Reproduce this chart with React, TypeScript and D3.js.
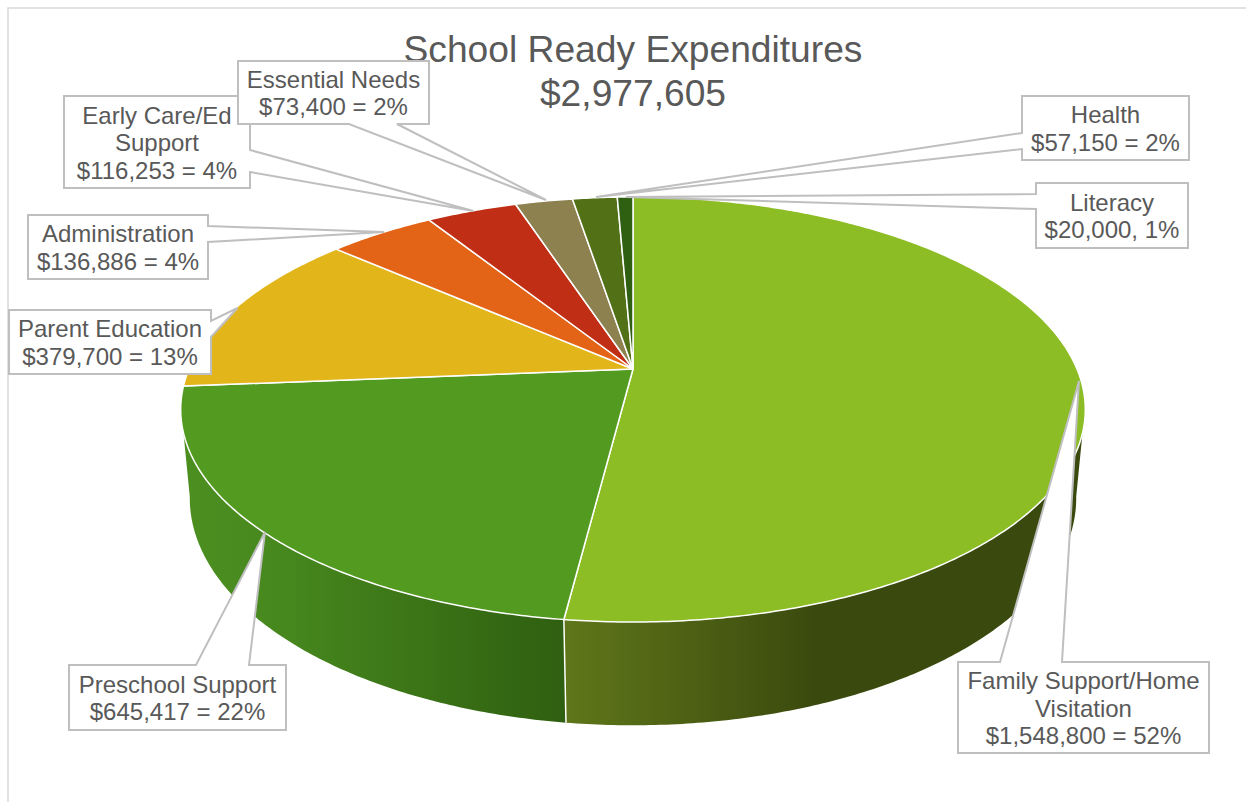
import React from "react";
import * as d3 from "d3";

const categories = ["Family Support/Home Visitation", "Preschool Support", "Parent Education", "Administration", "Early Care/Ed Support", "Essential Needs", "Health", "Literacy"];
const amounts = [1548800, 645417, 379700, 136886, 116253, 73400, 57150, 20000];
const sliceColors = ["#8cbd24", "#529b20", "#e2b61b", "#e36416", "#c02f15", "#8e8150", "#527117", "#2f6011"];
const labelLines = [
  ["Family Support/Home", "Visitation", "$1,548,800 = 52%"],
  ["Preschool Support", "$645,417 = 22%"],
  ["Parent Education", "$379,700 = 13%"],
  ["Administration", "$136,886 = 4%"],
  ["Early Care/Ed", "Support", "$116,253 = 4%"],
  ["Essential Needs", "$73,400 = 2%"],
  ["Health", "$57,150 = 2%"],
  ["Literacy", "$20,000, 1%"],
];
const titleLines = ["School Ready Expenditures", "$2,977,605"];

// callout geometry: box, wedge edge, wedge base span, tip
type Side = "top" | "bottom" | "left" | "right";
const callouts: { box: number[]; side: Side; base: number[]; tip: number[] }[] = [
  { box: [958, 662, 1209, 753], side: "top", base: [1000, 1062], tip: [1079, 381] },
  { box: [69, 665, 286, 730], side: "top", base: [196, 249], tip: [265, 532] },
  { box: [9, 310, 211, 374], side: "right", base: [321, 337], tip: [237.5, 308] },
  { box: [28, 215, 208, 279], side: "right", base: [226, 242], tip: [384, 232] },
  { box: [64, 96, 250, 188], side: "right", base: [150, 172], tip: [473.5, 211] },
  { box: [238, 61, 429, 124], side: "bottom", base: [349, 397], tip: [546, 200] },
  { box: [1022, 96, 1189, 160], side: "left", base: [133, 149], tip: [596, 197] },
  { box: [1036, 183, 1188, 248], side: "left", base: [194, 209], tip: [626, 197] },
];
const drawOrder = [0, 1, 2, 3, 4, 5, 6, 7];

const W = 1246;
const H = 802;
const APEX = { x: 633, y: 369 };
const TOP = { k: 0.1906, rx: 444, ry: 204.8, cy: 369 };
const BASE = { k: 0.18, rx: 436, ry: 220, cy: 457 };
const WALL_START = (100 * Math.PI) / 180;
const WALL_END = (260 * Math.PI) / 180;

function project(p: { k: number; rx: number; ry: number; cy: number }, theta: number): [number, number] {
  const u = Math.sin(theta);
  const v = Math.cos(theta);
  const d = 1 + p.k * v;
  return [APEX.x + (p.rx * u) / d, p.cy - (p.ry * v) / d];
}
const topPoint = (t: number) => project(TOP, t);
const basePoint = (t: number) => project(BASE, t);
function samples(a: number, b: number): number[] {
  const n = Math.max(3, Math.ceil(Math.abs(b - a) / 0.01));
  return d3.range(n + 1).map((i) => a + ((b - a) * i) / n);
}

const lineGen = d3.line<[number, number]>().x((d) => d[0]).y((d) => d[1]);
const arcs = d3.pie<number>().sort(null).value((d) => d)(amounts);

function calloutPath(c: (typeof callouts)[number]): string {
  const [x0, y0, x1, y1] = c.box;
  const [a, b] = c.base;
  const t = c.tip;
  const pts: number[][] = [[x0, y0]];
  if (c.side === "top") pts.push([a, y0], t, [b, y0]);
  pts.push([x1, y0]);
  if (c.side === "right") pts.push([x1, a], t, [x1, b]);
  pts.push([x1, y1]);
  if (c.side === "bottom") pts.push([b, y1], t, [a, y1]);
  pts.push([x0, y1]);
  if (c.side === "left") pts.push([x0, b], t, [x0, a]);
  return "M" + pts.map((p) => p.join(",")).join("L") + "Z";
}

const FONT = "'Liberation Sans', Arial, sans-serif";
const TEXT = "#595959";

export default function App() {
  const wallFamily = arcs[0];
  const wallPre = arcs[1];
  const famThetas = samples(WALL_START, wallFamily.endAngle);
  const preThetas = samples(wallPre.startAngle, WALL_END);
  const wall = (ts: number[]) =>
    lineGen([...ts.map(topPoint), ...ts.slice().reverse().map(basePoint)]) + "Z";
  const seamTop = topPoint(wallFamily.endAngle);
  const seamBase = basePoint(wallFamily.endAngle);
  return (
    <svg width={W} height={H} viewBox={`0 0 ${W} ${H}`} style={{ position: "absolute", left: 0, top: 0, display: "block", background: "#fff" }}>
      <defs>
        <linearGradient id="wallFam" gradientUnits="userSpaceOnUse" x1={565} x2={1086} y1={0} y2={0}>
          <stop offset="0" stopColor="#5f7619" />
          <stop offset="0.48" stopColor="#3a4a0e" />
          <stop offset="1" stopColor="#3a4a0e" />
        </linearGradient>
        <linearGradient id="wallPre" gradientUnits="userSpaceOnUse" x1={185} x2={565} y1={0} y2={0}>
          <stop offset="0" stopColor="#4c8f20" />
          <stop offset="0.25" stopColor="#47881e" />
          <stop offset="1" stopColor="#2f5f10" />
        </linearGradient>
      </defs>
      <rect x={8} y={8} width={W + 20} height={H + 20} fill="#fff" stroke="#d9d9d9" strokeWidth={1.5} />
      <path d={wall(famThetas)} fill="url(#wallFam)" />
      <path d={wall(preThetas)} fill="url(#wallPre)" />
      <line x1={seamTop[0]} y1={seamTop[1]} x2={seamBase[0]} y2={seamBase[1]} stroke="#fff" strokeWidth={1.5} />
      {arcs.map((a, i) => (
        <path
          key={categories[i]}
          d={lineGen([[APEX.x, APEX.y], ...samples(a.startAngle, a.endAngle).map(topPoint)]) + "Z"}
          fill={sliceColors[i]}
          stroke="#fff"
          strokeWidth={1.5}
          strokeLinejoin="round"
        />
      ))}
      <g fontFamily={FONT} fill={TEXT} textAnchor="middle" fontSize={37.2}>
        {titleLines.map((t, i) => (
          <text key={t} x={633} y={62 + i * 44}>{t}</text>
        ))}
      </g>
      {drawOrder.map((i) => {
        const c = callouts[i];
        const lines = labelLines[i];
        const [x0, y0, x1, y1] = c.box;
        const cx = (x0 + x1) / 2;
        const cy = (y0 + y1) / 2;
        const lh = 27.5;
        return (
          <g key={categories[i]}>
            <path d={calloutPath(c)} fill="#fff" stroke="#bfbfbf" strokeWidth={2} strokeLinejoin="miter" />
            <text fontFamily={FONT} fontSize={24} fill={TEXT} textAnchor="middle">
              {lines.map((l, k) => (
                <tspan key={k} x={cx} y={cy + (k - (lines.length - 1) / 2) * lh + 9}>{l}</tspan>
              ))}
            </text>
          </g>
        );
      })}
    </svg>
  );
}
